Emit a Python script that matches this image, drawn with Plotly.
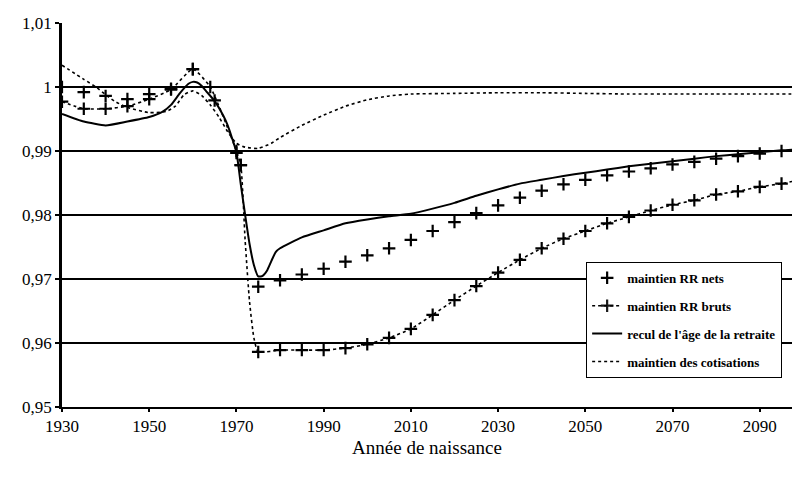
import plotly.graph_objects as go

# ---------------- data ----------------
nets_years = [1930, 1935, 1940, 1945, 1950, 1955, 1960, 1965, 1970, 1971, 1975, 1980,
              1985, 1990, 1995, 2000, 2005, 2010, 2015, 2020, 2025, 2030, 2035, 2040,
              2045, 2050, 2055, 2060, 2065, 2070, 2075, 2080, 2085, 2090, 2095]
nets_values = [1.0000, 0.9992, 0.9986, 0.9981, 0.9989, 0.9997, 1.0028, 0.9979, 0.9897, 0.9878,
               0.9688, 0.9698, 0.9707, 0.9716, 0.9727, 0.9737, 0.9748, 0.9761, 0.9775, 0.9789,
               0.9803, 0.9815, 0.9827, 0.9838, 0.9848, 0.9855, 0.9862, 0.9868, 0.9873, 0.9879,
               0.9883, 0.9888, 0.9892, 0.9896, 0.9900]

bruts_years = [1930, 1935, 1940, 1945, 1950, 1955, 1960, 1964, 1970, 1971, 1972, 1973, 1974,
               1975, 1980, 1985, 1990, 1995, 2000, 2005, 2010, 2015, 2020, 2025, 2030, 2035,
               2040, 2045, 2050, 2055, 2060, 2065, 2070, 2075, 2080, 2085, 2090, 2095, 2100]
bruts_values = [0.9977, 0.9966, 0.9966, 0.9970, 0.9981, 0.9996, 1.0028, 1.0000, 0.9900, 0.9878,
                0.9760, 0.9665, 0.9608, 0.9586, 0.9589, 0.9589, 0.9589, 0.9592, 0.9598, 0.9608,
                0.9622, 0.9644, 0.9667, 0.9689, 0.9710, 0.9730, 0.9748, 0.9763, 0.9775, 0.9787,
                0.9797, 0.9807, 0.9816, 0.9823, 0.9832, 0.9837, 0.9844, 0.9849, 0.9856]
bruts_unmarked_years = [1972, 1973, 1974, 2100]

recul_years = [1930, 1935, 1940, 1945, 1950, 1953, 1955, 1957, 1959, 1960, 1961, 1962, 1963,
               1965, 1967, 1968, 1969, 1970, 1971, 1972, 1973, 1974, 1975, 1976, 1977, 1978,
               1979, 1980, 1985, 1990, 1995, 2000, 2005, 2010, 2015, 2020, 2025, 2030, 2035,
               2040, 2045, 2050, 2055, 2060, 2065, 2070, 2075, 2080, 2085, 2090, 2095, 2100]
recul_values = [0.9958, 0.9946, 0.9940, 0.9946, 0.9953, 0.9961, 0.9972, 0.9990, 1.0005, 1.0008,
                1.0007, 1.0002, 0.9994, 0.9978, 0.9955, 0.9940, 0.9920, 0.9898, 0.9848, 0.9800,
                0.9755, 0.9722, 0.9704, 0.9705, 0.9713, 0.9728, 0.9742, 0.9748, 0.9765, 0.9776,
                0.9787, 0.9793, 0.9798, 0.9802, 0.9810, 0.9819, 0.9830, 0.9840, 0.9849, 0.9855,
                0.9861, 0.9866, 0.9871, 0.9876, 0.9880, 0.9884, 0.9888, 0.9892, 0.9895, 0.9898,
                0.9901, 0.9903]

cotis_years = [1930, 1935, 1938, 1940, 1942, 1945, 1950, 1954, 1956, 1958, 1960, 1962, 1964,
               1966, 1968, 1970, 1972, 1975, 1978, 1980, 1985, 1990, 1995, 2000, 2005, 2010,
               2020, 2030, 2040, 2050, 2060, 2070, 2080, 2090, 2100]
cotis_values = [1.0034, 1.0012, 0.9999, 0.9988, 0.9978, 0.9968, 0.9960, 0.9962, 0.9970, 0.9988,
                0.9994, 0.9987, 0.9972, 0.9953, 0.9930, 0.9912, 0.9906, 0.9904, 0.9912, 0.9921,
                0.9940, 0.9956, 0.9970, 0.9980, 0.9986, 0.9989, 0.9990, 0.9991, 0.9991, 0.9990,
                0.9989, 0.9989, 0.9989, 0.9989, 0.9989]

y_ticks = [0.95, 0.96, 0.97, 0.98, 0.99, 1.00, 1.01]
y_tick_labels = ["0,95", "0,96", "0,97", "0,98", "0,99", "1", "1,01"]
x_ticks = [1930, 1950, 1970, 1990, 2010, 2030, 2050, 2070, 2090]

series_names = ["maintien RR nets", "maintien RR bruts",
                "recul de l'âge de la retraite", "maintien des cotisations"]
x_title = "Année de naissance"

# ---------------- figure ----------------
FONT = "Liberation Serif, Times New Roman, serif"
mk = dict(symbol="cross-thin", size=9, color="black", line=dict(color="black", width=2.2))

fig = go.Figure()

fig.add_trace(go.Scatter(
    x=nets_years, y=nets_values, name=series_names[0], mode="markers",
    legendgroup="a", marker=mk))

bruts_opacity = [0 if yr in bruts_unmarked_years else 1 for yr in bruts_years]
fig.add_trace(go.Scatter(
    x=bruts_years, y=bruts_values, name=series_names[1], mode="lines+markers",
    legendgroup="b",
    line=dict(color="black", width=1.6, dash="dot", shape="spline", smoothing=0.5),
    marker=dict(symbol="cross-thin", size=9, color="black", opacity=bruts_opacity,
                line=dict(color="black", width=2.2))))

fig.add_trace(go.Scatter(
    x=recul_years, y=recul_values, name=series_names[2], mode="lines",
    legendgroup="c",
    line=dict(color="black", width=2, shape="spline", smoothing=0.5)))

fig.add_trace(go.Scatter(
    x=cotis_years, y=cotis_values, name=series_names[3], mode="lines",
    legendgroup="d",
    line=dict(color="black", width=1.6, dash="dot", shape="spline", smoothing=0.5)))

fig.update_layout(
    width=792, height=478,
    margin=dict(l=62, r=0, t=23, b=71, autoexpand=False),
    paper_bgcolor="white", plot_bgcolor="white",
    font=dict(family=FONT, color="black", size=16),
    showlegend=True,
    legend=dict(
        x=0.718, y=0.378, xanchor="left", yanchor="top",
        bgcolor="white", bordercolor="black", borderwidth=1,
        font=dict(family=FONT, size=13, color="black", weight="bold"),
        tracegroupgap=8, itemwidth=30,
    ),
)

fig.update_xaxes(
    range=[1930, 2097.4], tickvals=x_ticks, ticktext=[str(v) for v in x_ticks],
    showgrid=False, zeroline=False, automargin=False,
    showline=True, linecolor="black", linewidth=1.5,
    ticks="outside", ticklen=3, tickcolor="black", tickwidth=1.5,
    tickfont=dict(family=FONT, size=17, color="black"),
    title=dict(text=x_title, font=dict(family=FONT, size=19, color="black"), standoff=6),
)
fig.update_yaxes(
    range=[0.95, 1.01], tickvals=y_ticks, ticktext=y_tick_labels,
    showgrid=True, gridcolor="black", gridwidth=1.5, zeroline=False, automargin=False,
    showline=True, linecolor="black", linewidth=2.5,
    ticks="outside", ticklen=4, tickcolor="black", tickwidth=1.5,
    tickfont=dict(family=FONT, size=17, color="black"),
)

fig.write_html("out.html", config={"displayModeBar": False},
               post_script="document.body.style.margin='0';")
